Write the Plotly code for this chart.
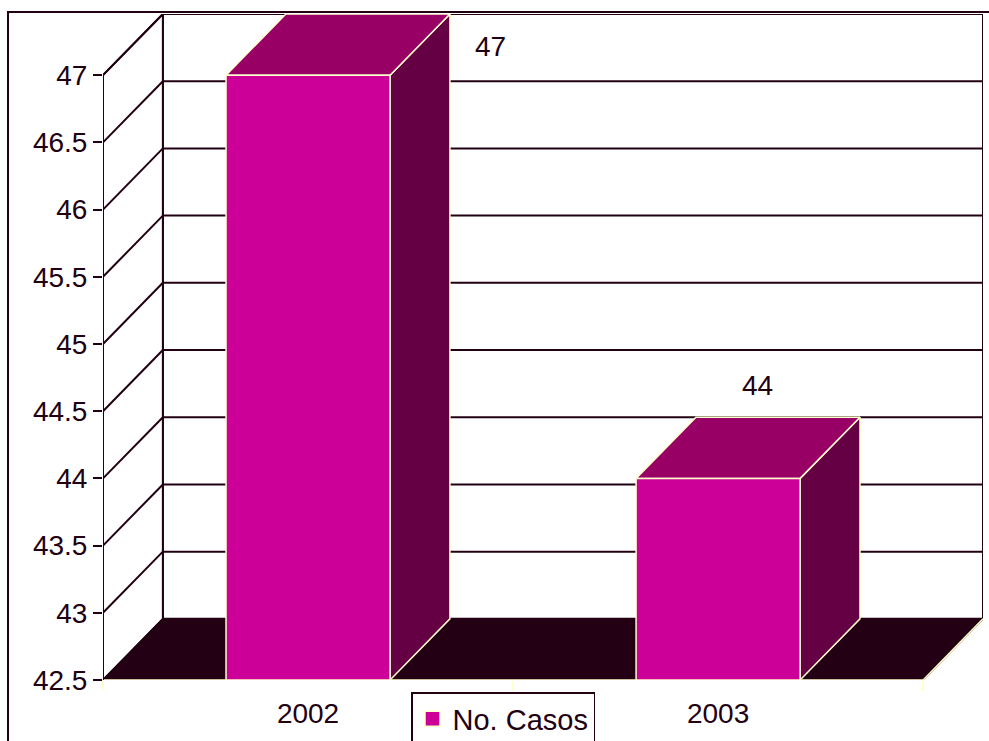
import plotly.graph_objects as go

# ---- data -------------------------------------------------------------
years = ["2002", "2003"]
casos = [47, 44]
series_name = "No. Casos"
y_ticks = [42.5, 43, 43.5, 44, 44.5, 45, 45.5, 46, 46.5, 47]
y_tick_labels = ["42.5", "43", "43.5", "44", "44.5", "45", "45.5", "46", "46.5", "47"]

# ---- styling / pseudo-3D geometry ---------------------------------------
DARK = "#210012"
EDGE = "#FFFFCC"
FRONT = "#CC0099"
TOP = "#990066"
SIDE = "#660044"
FLOOR = "#230013"
FONT = "Liberation Sans, Arial, sans-serif"
FS = 28

BAR_W = 0.4          # bar width in category units
DX = 0.146           # depth offset along x (category units)
DY = 0.455           # depth offset along y (value units)
Y_MIN = y_ticks[0]
Y_MAX = y_ticks[-1]
X_MIN = -0.5
X_MAX = len(years) - 0.5

# label placement relative to each bar (category units, value units)
label_shift = [(0.444, 0.21), (0.095, 0.69)]

fig = go.Figure()


def poly(xs, ys, fill, line, width=1.5, name=None, show=False):
    fig.add_trace(go.Scatter(
        x=xs + [xs[0]], y=ys + [ys[0]], mode="lines", fill="toself",
        fillcolor=fill, line=dict(color=line, width=width),
        hoverinfo="skip", showlegend=show, name=name))


def segs(pairs, color, width=2):
    xs, ys = [], []
    for (x0, y0), (x1, y1) in pairs:
        xs += [x0, x1, None]
        ys += [y0, y1, None]
    fig.add_trace(go.Scatter(x=xs, y=ys, mode="lines",
                             line=dict(color=color, width=width),
                             hoverinfo="skip", showlegend=False))


# back wall
poly([X_MIN + DX, X_MAX + DX, X_MAX + DX, X_MIN + DX],
     [Y_MIN + DY, Y_MIN + DY, Y_MAX + DY, Y_MAX + DY], "white", DARK, 2)
# side wall
poly([X_MIN, X_MIN, X_MIN + DX, X_MIN + DX],
     [Y_MIN, Y_MAX, Y_MAX + DY, Y_MIN + DY], "white", DARK, 2)

# gridlines: diagonal on the side wall, horizontal on the back wall
grid = []
for v in y_ticks[1:]:
    grid.append(((X_MIN, v), (X_MIN + DX, v + DY)))
    grid.append(((X_MIN + DX, v + DY), (X_MAX + DX, v + DY)))
segs(grid, DARK, 2)

# floor
poly([X_MIN, X_MAX, X_MAX + DX, X_MIN + DX],
     [Y_MIN, Y_MIN, Y_MIN + DY, Y_MIN + DY], FLOOR, DARK, 1.5)
segs([((X_MIN, Y_MIN), (X_MAX, Y_MIN)),
      ((X_MAX, Y_MIN), (X_MAX + DX, Y_MIN + DY))], EDGE, 1.5)

# front value axis line
segs([((X_MIN, Y_MIN), (X_MIN, Y_MAX))], DARK, 2)

# bars
for i, v in enumerate(casos):
    x0, x1 = i - BAR_W / 2, i + BAR_W / 2
    poly([x1, x1, x1 + DX, x1 + DX], [Y_MIN, v, v + DY, Y_MIN + DY], SIDE, EDGE)
    poly([x0, x1, x1 + DX, x0 + DX], [v, v, v + DY, v + DY], TOP, EDGE)
    poly([x0, x1, x1, x0], [Y_MIN, Y_MIN, v, v], FRONT, EDGE)
    sx, sy = label_shift[i]
    fig.add_annotation(x=i + sx, y=v + sy, text=str(v), showarrow=False,
                       font=dict(family=FONT, size=FS, color=DARK))

# legend entry
fig.add_trace(go.Scatter(
    x=[None], y=[None], mode="markers", name=series_name,
    marker=dict(symbol="square", size=15, color=FRONT,
                line=dict(color=EDGE, width=1.5))))

# outer chart border
fig.add_shape(type="rect", xref="paper", yref="paper",
              x0=(8 - 103) / 880, x1=1.02, y0=-0.12, y1=(680 - 12) / 666,
              line=dict(color=DARK, width=2), layer="below")

fig.update_layout(
    width=989, height=741,
    margin=dict(l=103, r=6, t=14, b=61, autoexpand=False),
    paper_bgcolor="white", plot_bgcolor="white",
    font=dict(family=FONT, size=FS, color=DARK),
    showlegend=True,
    legend=dict(x=(411 - 103) / 880, y=(680 - 692) / 666,
                xanchor="left", yanchor="top",
                bordercolor=DARK, borderwidth=1.5, bgcolor="white",
                font=dict(family=FONT, size=29, color=DARK),
                itemwidth=30),
    xaxis=dict(range=[X_MIN, X_MAX + DX], showgrid=False, zeroline=False,
               showline=False, tickmode="array",
               tickvals=list(range(len(years))), ticktext=years,
               ticks="", ticklabelstandoff=14, automargin=False,
               minor=dict(tickmode="array", tickvals=[X_MIN + k for k in range(len(years) + 1)],
                          ticks="outside", ticklen=10, tickcolor=EDGE, tickwidth=1.5,
                          showgrid=False),
               fixedrange=True),
    yaxis=dict(range=[Y_MIN, Y_MAX + DY], showgrid=False, zeroline=False,
               showline=False, tickmode="array", tickvals=y_ticks,
               ticktext=y_tick_labels, ticks="outside", ticklen=9,
               tickwidth=2, tickcolor=DARK, fixedrange=True, automargin=False),
)

fig.write_html("out.html")
